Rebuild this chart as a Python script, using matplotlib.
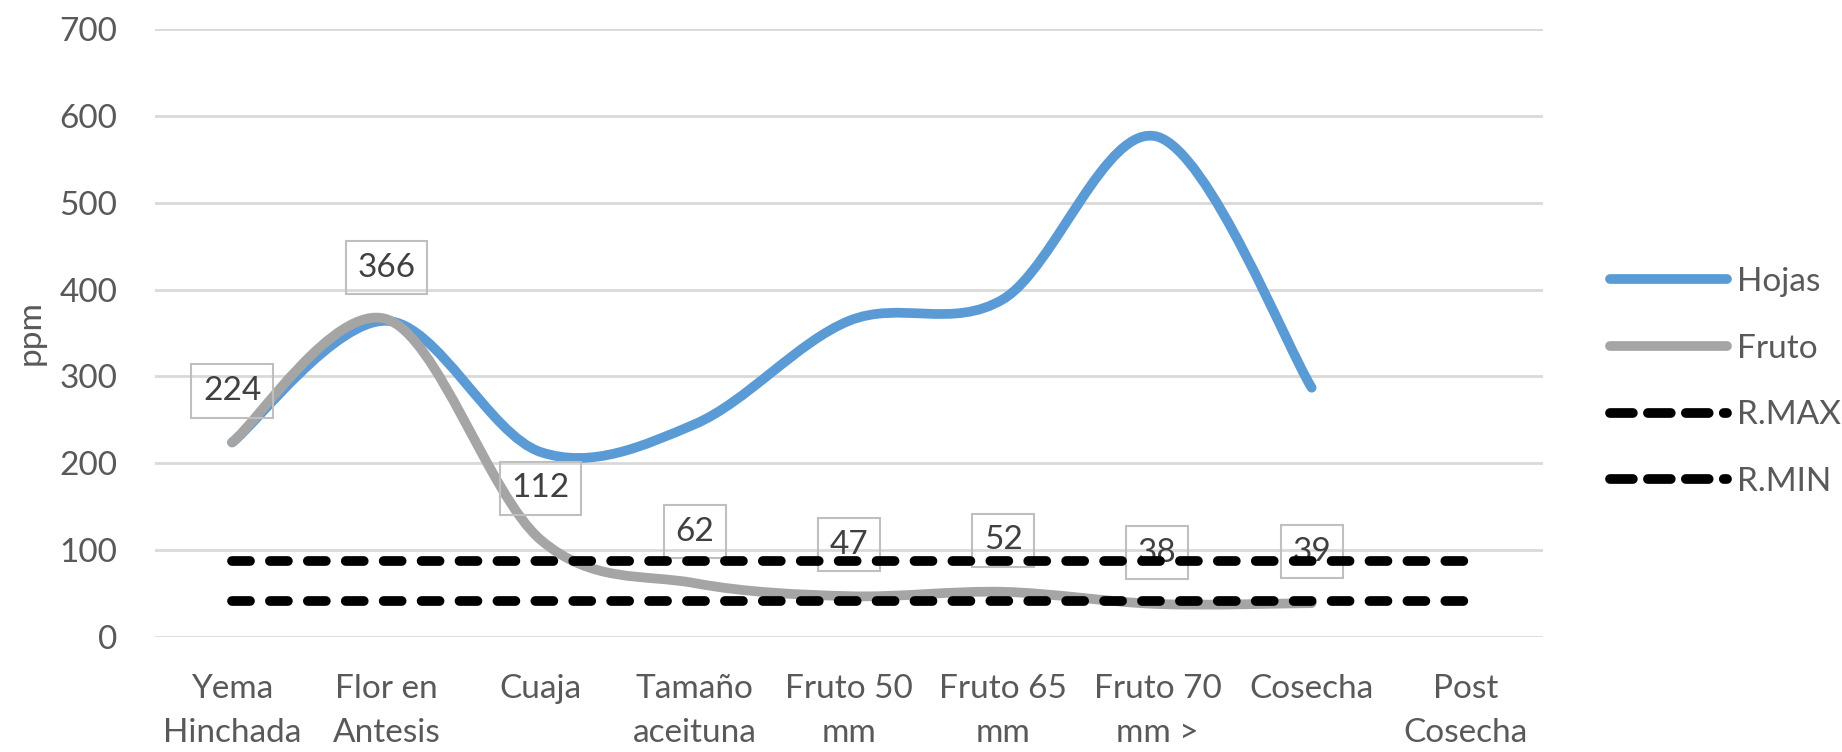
import numpy as np
import matplotlib
matplotlib.use("Agg")
import matplotlib.pyplot as plt
from matplotlib.path import Path
from matplotlib.patches import PathPatch
from matplotlib.lines import Line2D

plt.rcParams['font.family'] = ['Lato', 'DejaVu Sans']

etapas = ['Yema\nHinchada', 'Flor en\nAntesis', 'Cuaja', 'Tamaño\naceituna',
          'Fruto 50\nmm', 'Fruto 65\nmm', 'Fruto 70\nmm >', 'Cosecha', 'Post\nCosecha']
hojas = [224, 364, 213, 245, 364, 389, 576, 287]
fruto = [224, 366, 112, 62, 47, 52, 38, 39]
r_max = [87] * 9
r_min = [41] * 9

azul = '#5B9BD5'
gris = '#A5A5A5'
texto = '#595959'


def smooth_path(xs, ys):
    # bezier tipo "linea suavizada" de Excel
    xs = np.asarray(xs, float)
    ys = np.asarray(ys, float)
    n = len(xs)
    verts = [(xs[0], ys[0])]
    codes = [Path.MOVETO]
    for i in range(n - 1):
        x0, y0 = (xs[i - 1], ys[i - 1]) if i > 0 else (xs[i], ys[i])
        x3, y3 = (xs[i + 2], ys[i + 2]) if i + 2 < n else (xs[i + 1], ys[i + 1])
        c1 = (xs[i] + (xs[i + 1] - x0) / 6, ys[i] + (ys[i + 1] - y0) / 6)
        c2 = (xs[i + 1] - (x3 - xs[i]) / 6, ys[i + 1] - (y3 - ys[i]) / 6)
        verts += [c1, c2, (xs[i + 1], ys[i + 1])]
        codes += [Path.CURVE4] * 3
    return Path(verts, codes)


fig = plt.figure(figsize=(18.42, 7.52), dpi=100)
ax = fig.add_axes([155 / 1842, 115 / 752, 1388 / 1842, 608 / 752])

x = np.arange(len(etapas))
lw = 7

ax.add_patch(PathPatch(smooth_path(x[:len(hojas)], hojas), fc='none', ec=azul,
                       lw=lw, capstyle='round', joinstyle='round', zorder=3))
ax.add_patch(PathPatch(smooth_path(x[:len(fruto)], fruto), fc='none', ec=gris,
                       lw=lw, capstyle='round', joinstyle='round', zorder=4))
ax.plot(x, r_max, color='black', lw=lw, dashes=(1.85, 2.05),
        dash_capstyle='round', zorder=6)
ax.plot(x, r_min, color='black', lw=lw, dashes=(1.85, 2.05),
        dash_capstyle='round', zorder=6)

for xi, v in zip(x, fruto):
    ax.annotate(str(v), (xi, v), xytext=(0, 37), textcoords='offset points',
                ha='center', va='center', fontsize=24, color='#404040', zorder=5,
                bbox=dict(boxstyle='square,pad=0.35', fc='none', ec='#BFBFBF', lw=1.5))

ax.set_xlim(-0.5, len(etapas) - 0.5)
ax.set_ylim(0, 700)
ax.set_yticks(range(0, 701, 100))
ax.set_xticks(x)
ax.set_xticklabels(etapas, linespacing=1.55)
ax.tick_params(axis='both', length=0, labelsize=24, labelcolor=texto)
ax.tick_params(axis='y', pad=27)
ax.tick_params(axis='x', pad=27)
ax.grid(axis='y', color='#D9D9D9', lw=2)
ax.set_axisbelow(True)
for s in ax.spines.values():
    s.set_visible(False)

fig.text(31 / 1842, 0.5 * (115 + 723) / 752, 'ppm', rotation=90, ha='center',
         va='center', fontsize=24, color=texto)

handles = [Line2D([], [], color=azul, lw=lw, solid_capstyle='round'),
           Line2D([], [], color=gris, lw=lw, solid_capstyle='round'),
           Line2D([], [], color='black', lw=lw, dashes=(2.35, 1.55), dash_capstyle='round'),
           Line2D([], [], color='black', lw=lw, dashes=(2.35, 1.55), dash_capstyle='round')]
fig.legend(handles, ['Hojas', 'Fruto', 'R.MAX', 'R.MIN'], loc='center left',
           bbox_to_anchor=(1610 / 1842, (752 - 382) / 752), frameon=False,
           fontsize=24, labelcolor=texto, handlelength=3.5, handletextpad=0.3,
           labelspacing=1.1, borderpad=0, borderaxespad=0)

fig.savefig('out.png', dpi=100)
